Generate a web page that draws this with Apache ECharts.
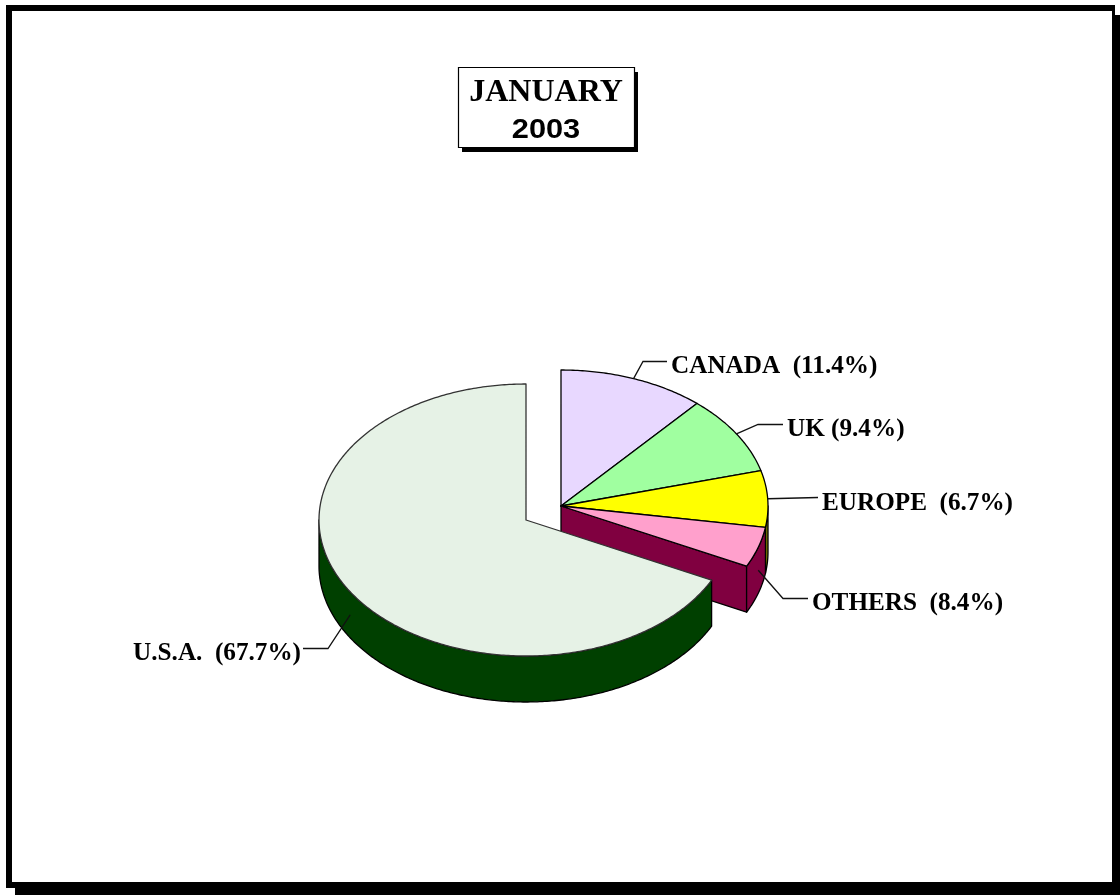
<!DOCTYPE html>
<html><head><meta charset="utf-8">
<style>html,body{margin:0;padding:0;background:#fff}#c{width:1120px;height:895px}</style>
<script src="https://cdn.jsdelivr.net/npm/echarts@6/dist/echarts.min.js"></script>
</head><body><div id="c"></div>
<script>
// Data
var categories = ['CANADA', 'UK', 'EUROPE', 'OTHERS', 'U.S.A.'];
var labelPercents = [11.4, 9.4, 6.7, 8.4, 67.7];   // as printed on the labels
var sliceShares = [11.4, 9.4, 6.7, 4.8, 67.7];     // as drawn (slice sizes)
var labelGaps = ['  ', ' ', '  ', '  ', '  '];
var topColors = ['#E8D8FF', '#A0FFA0', '#FFFF00', '#FFA0CC', '#E6F2E6'];
var sideColors = ['#74687F', '#508050', '#808000', '#800040', '#004000'];

// Layout
var RX = 207, RY = 136, DEPTH = 46;
var mainCenter = [561, 506], usaCenter = [526, 520];
var labelLayout = [
  {knee: [643, 361.5], end: [667, 361.5], text: [671, 366], align: 'left'},
  {knee: [758, 424.5], end: [783, 424.5], text: [787, 429], align: 'left'},
  {knee: null, end: [818, 497.5], text: [822, 503], align: 'left'},
  {knee: [783, 598.5], end: [808, 598.5], text: [812, 603], align: 'left'},
  {knee: [328, 648.5], end: [303, 648.5], text: [301, 653], align: 'right'}
];

var total = sliceShares.reduce(function (a, b) { return a + b; }, 0);
var spans = [], acc = 0;
sliceShares.forEach(function (v) {
  var s = acc / total * 360, e = (acc + v) / total * 360;
  spans.push([s, e]); acc += v;
});
function pt(c, deg, dy) {
  var r = deg * Math.PI / 180;
  return [c[0] + RX * Math.sin(r), c[1] - RY * Math.cos(r) + (dy || 0)];
}
function arc(c, a, b, dy) {
  var out = [], n = Math.max(2, Math.ceil(Math.abs(b - a) * 1.5));
  for (var i = 0; i <= n; i++) out.push(pt(c, a + (b - a) * i / n, dy));
  return out;
}
function centerOf(i) { return i === 4 ? usaCenter : mainCenter; }

function renderItem(params, api) {
  var i = api.value(0);
  var c = centerOf(i), sp = spans[i], kids = [];
  function poly(points, fill, stroke, w) {
    kids.push({type: 'polygon', shape: {points: points},
      style: {fill: fill, stroke: stroke || '#000', lineWidth: w || 1.3, lineJoin: 'round'}});
  }
  // side wall of the visible front half (90deg .. 270deg)
  var a = Math.max(sp[0], 90), b = Math.min(sp[1], 270);
  if (i === 3) { // cut face seen because the group is pulled out
    var cEnd = pt(c, sp[1]);
    poly([c, cEnd, [cEnd[0], cEnd[1] + DEPTH], [c[0], c[1] + DEPTH]], sideColors[i]);
  }
  if (b > a) {
    poly(arc(c, a, b).concat(arc(c, b, a, DEPTH)), sideColors[i]);
  }
  // top face
  poly([c].concat(arc(c, sp[0], sp[1])), topColors[i], i === 4 ? '#333' : '#000');
  return {type: 'group', children: kids};
}

function labelItem(params, api) {
  var i = api.value(0), c = centerOf(i), sp = spans[i], L = labelLayout[i];
  var mid = (sp[0] + sp[1]) / 2;
  var start = pt(c, mid, mid > 90 && mid < 270 ? DEPTH / 2 : 0);
  var pts = L.knee ? [start, L.knee, L.end] : [start, L.end];
  return {type: 'group', children: [
    {type: 'polyline', shape: {points: pts}, style: {fill: null, stroke: '#111', lineWidth: 1.3}},
    {type: 'text', x: L.text[0], y: L.text[1], style: {
      text: categories[i] + labelGaps[i] + '(' + labelPercents[i].toFixed(1) + '%)',
      font: 'bold 25.2px "Liberation Serif"', fill: '#000',
      align: L.align, verticalAlign: 'middle'}}
  ]};
}

var seriesData = categories.map(function (n, i) { return {name: n, value: [i, sliceShares[i]]}; });
var chart = echarts.init(document.getElementById('c'), null, {renderer: 'canvas'});
chart.setOption({
  animation: false,
  backgroundColor: '#fff',
  graphic: {elements: [
    {type: 'rect', z: 0, shape: {x: 15, y: 15, width: 1105, height: 880}, style: {fill: '#000'}},
    {type: 'rect', z: 0, shape: {x: 6, y: 5, width: 1109, height: 883}, style: {fill: '#000'}},
    {type: 'rect', z: 0, shape: {x: 12, y: 11, width: 1100, height: 871}, style: {fill: '#fff'}},
    {type: 'rect', z: 1, shape: {x: 462, y: 72, width: 176, height: 80}, style: {fill: '#000'}},
    {type: 'rect', z: 1, shape: {x: 458.5, y: 67.5, width: 176, height: 80}, style: {fill: '#fff', stroke: '#000', lineWidth: 1.2}},
    {type: 'text', z: 2, x: 546, y: 93, style: {text: 'JANUARY', font: 'bold 32px "Liberation Serif"', fill: '#000', align: 'center', verticalAlign: 'middle'}},
    {type: 'text', z: 2, x: 546, y: 130, scaleX: 1.08, style: {text: '2003', font: 'bold 28.5px "Liberation Sans"', fill: '#000', align: 'center', verticalAlign: 'middle'}}
  ]},
  series: [
    {type: 'custom', coordinateSystem: 'none', z: 3, data: seriesData, renderItem: renderItem, silent: true},
    {type: 'custom', coordinateSystem: 'none', z: 4, data: seriesData, renderItem: labelItem, silent: true}
  ]
});
</script></body></html>
